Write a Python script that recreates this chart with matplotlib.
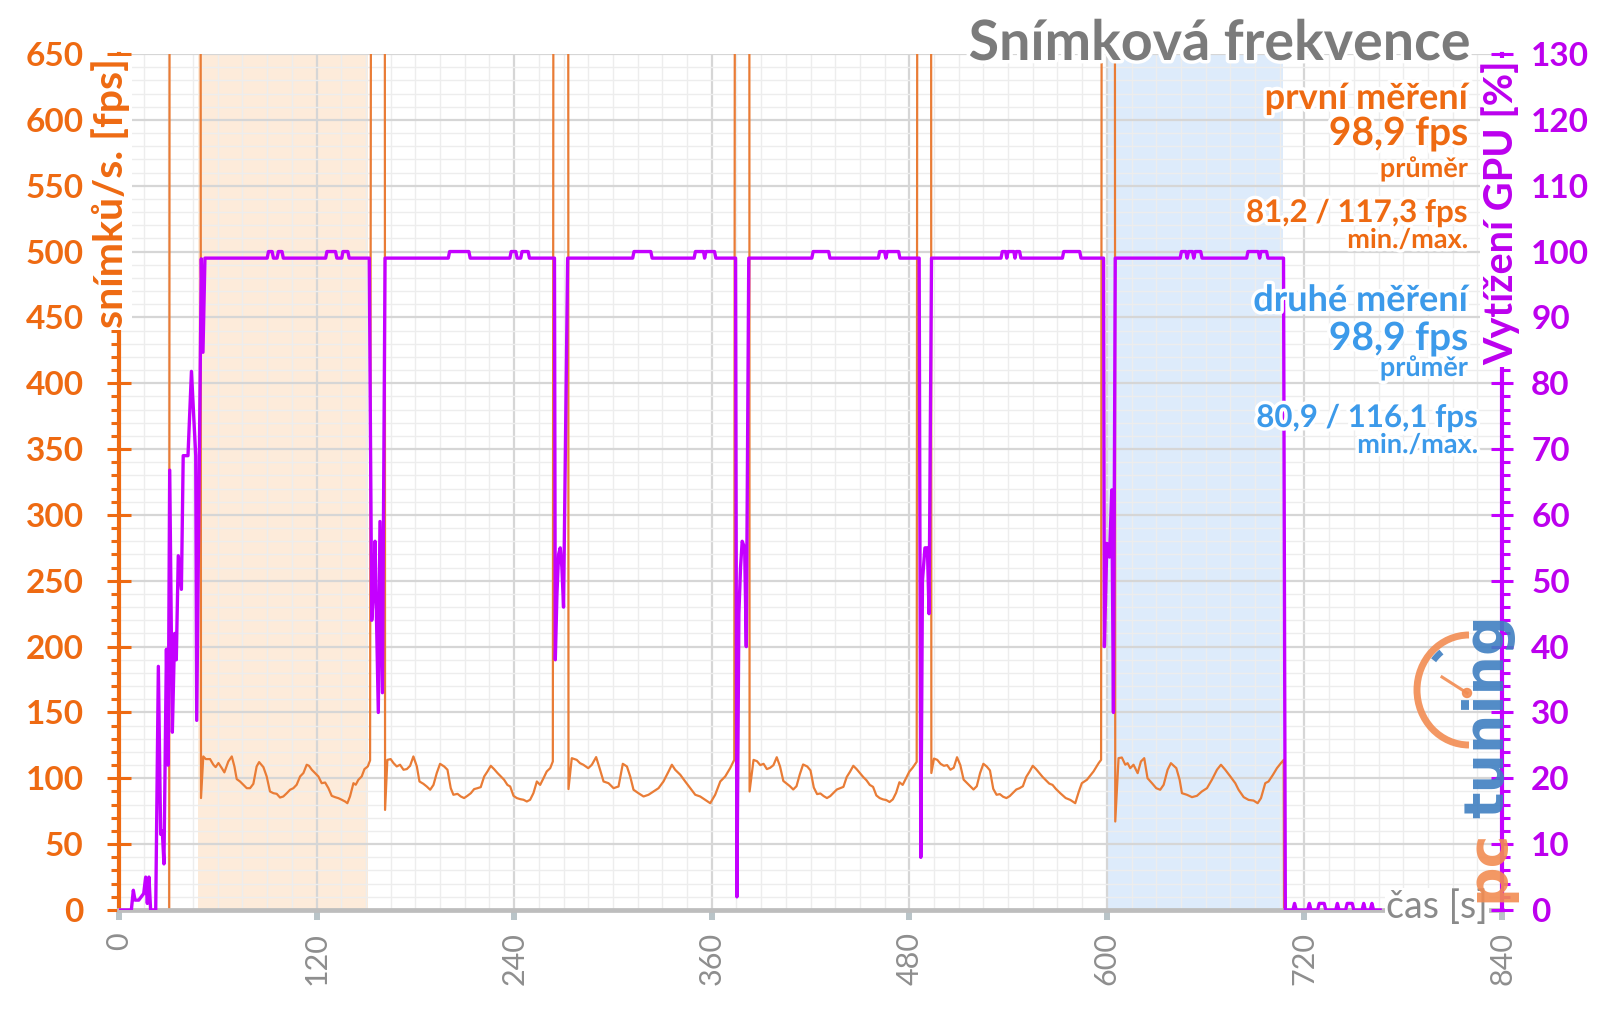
import matplotlib
matplotlib.use('Agg')
import matplotlib.pyplot as plt
import matplotlib.patheffects as pe
from matplotlib.patches import Arc, Circle
from matplotlib.ticker import MultipleLocator
import numpy as np

plt.rcParams['font.family'] = ['Lato', 'DejaVu Sans']

ORANGE = '#EE6A12'
ORANGE_LINE = '#E97C36'
MAGENTA = '#C400FF'
MAGENTA_TXT = '#BC00EE'
BLUE = '#3C9AEA'
GRAY = '#7B7B7B'

# --- snímková frekvence (fps), čas v s ---
start_t = [0, 30.5, 30.8, 49.5]
start_fps = [0, 0, 1000, 1000]

run1_t = [49.8, 51.2, 52.7, 55.3, 57.3, 58.7, 60.4, 62.4, 64, 66.4, 68.5, 70.1, 71.5, 73.5, 75.5,
          77.6, 79.6, 81.6, 83.6, 85.1, 87.7, 89.7, 91.7, 93.8, 95.8, 97.8, 99.8, 101.9, 103.9,
          105.9, 107.9, 110, 112, 114, 115.4, 117.1, 119.1, 121.1, 123.1, 125.2, 127.2, 129.2,
          131.2, 133.3, 135.3, 137.3, 138.7, 140.3, 142.4, 143.8, 145.4, 147.4, 149.1, 151.1, 152.5]
run1_fps = [85, 116.6, 114.6, 114.6, 110.3, 108.5, 111.6, 107.8, 104.5, 112.8, 116.6, 109, 99.4, 97.6, 95.1,
            92.5, 92.5, 95.8, 109, 112.3, 108.5, 101.4, 90, 88.7, 88.2, 85.4, 86.2, 88.7, 91.3,
            92.5, 95.1, 101.4, 104, 110.3, 109.5, 106.5, 104, 101.4, 96.3, 96.8, 92.5, 86.7,
            85.7, 84.9, 83.7, 82.4, 81.1, 86.2, 96.3, 95.1, 98.9, 101.4, 107, 109, 113.6]

load1_t = [153.3, 161.4]
load1_fps = [1000, 1000]

run2_t = [161.6, 163, 165, 166.7, 168.7, 170.7, 172.8, 174.8, 176.8, 178.8, 180.9, 182.5, 184.9, 186.9,
          189, 191, 193, 195, 197.5, 199.5, 201.5, 203.1, 205.6, 207.6, 209.6, 211.6, 213.7, 215.7,
          217.7, 219.7, 221.8, 223.8, 225.8, 227.8, 229.9, 231.9, 233.9, 235.9, 237.6, 239.6, 241.6,
          243.6, 245.7, 247.7, 249.7, 251.7, 253.8, 255.8, 257.8, 259.8, 261.9, 263.5]
run2_fps = [76, 114, 114.6, 111.6, 109, 110.3, 106.5, 107, 109.5, 116.6, 109, 97.6, 95.8, 93.8,
            91.3, 95, 104, 111, 109, 106.5, 92.5, 87.5, 88.2, 86.2, 85, 86.7, 88.7, 91.8,
            92.5, 93.3, 101.4, 105.2, 109.5, 107, 104, 101.4, 98.9, 95, 93.8, 86.7, 85,
            84.2, 83.7, 82.4, 83.7, 88.7, 97.6, 95, 100, 105.2, 107.7, 112.8]

load2_t = [264, 272.8]
load2_fps = [1000, 1000]

run3_t = [273, 275, 278, 280, 282, 285, 287.2, 289.8, 291.9, 294.3, 297.3, 300.4, 303.4, 306, 308.5,
          310.5, 312.5, 315.5, 318.6, 321.6, 324.7, 327.7, 330.7, 333.8, 335.8, 337.8, 340.9, 343.9,
          347, 350, 353, 356, 359.1, 362.1, 365.2, 368.2, 371.2, 373.7]
run3_fps = [91.8, 115.3, 114, 111.5, 110.3, 107.7, 110.3, 116.1, 107.7, 97.6, 96.3, 92.5, 93.8, 111, 109,
            101.4, 91.3, 88.7, 86.2, 87.5, 90, 92.5, 97.6, 105.2, 110.3, 106.5, 102.7, 97.6,
            92.5, 87.5, 86.2, 83.7, 81.1, 87.5, 97.6, 101.4, 107.7, 114]

load3_t = [374.2, 382.8]
load3_fps = [1000, 1000]

run4_t = [383, 385.4, 387.5, 389.5, 391.5, 393.5, 395.5, 397.5, 399.5, 401.5, 403.5, 405.5, 407.5, 409.5,
          411.5, 413.5, 415.5, 418, 420, 422, 424, 426, 428, 430, 432, 434, 436, 438, 440, 442, 444,
          446, 448, 450, 452, 454, 456, 458, 460, 462, 464, 466, 468, 470, 472, 474, 476, 478, 480,
          482, 484.5]
run4_fps = [90, 114, 113, 110, 111, 107, 108, 110, 116, 109, 98, 96, 94, 91.5,
            94, 103, 110.5, 109, 106, 93, 88, 88.5, 86.5, 85, 86.5, 89, 91.5, 92.5, 93.5, 101, 105,
            109.5, 107, 104, 101, 98.5, 95, 93.5, 87, 85, 84, 83.5, 82, 84, 89, 97, 95, 100, 105,
            108, 112.5]

load4_t = [485, 493.2]
load4_fps = [1000, 1000]

run5_t = [493.4, 495, 497, 499, 501, 503, 505, 507, 509, 511, 513, 515, 517, 519, 521, 523, 525, 527,
          529, 531, 533, 535, 537, 539, 541, 543, 545, 547, 549, 551, 553, 555, 557, 559, 561, 563,
          565, 567, 569, 571.7, 575, 577.8, 580.8, 583, 584.8, 587.9, 591.9, 595, 596.5]
run5_fps = [104, 115, 114, 111, 109.5, 110, 106.5, 108, 116, 110, 99, 96.5, 94, 91.5, 94, 104, 111, 109,
            106, 92, 87.5, 88, 86, 85, 86.5, 89, 91.5, 92.5, 94, 101, 105, 109.5, 107, 104, 101, 98.5,
            96, 95, 92, 88.7, 85, 83.6, 81.1, 90, 96.3, 98.9, 105.2, 111.5, 114]

load5_t = [597, 604.8]
load5_fps = [1000, 1000]

run6_t = [605.1, 607.1, 609.1, 611.2, 612.6, 614.2, 616.2, 618.7, 620.7, 622.7, 624.7, 627.4, 630,
          632.4, 634.5, 636.9, 638.9, 642.2, 644.2, 645.6, 648.6, 651.7, 654.7, 657.7, 660.8, 663.8,
          666.9, 669.3, 671.9, 675, 678, 680, 683.1, 686.1, 689.1, 691.6, 693.6, 696.2, 698.2, 700.9,
          703.3, 705.7, 707.4]
run6_fps = [67.2, 115.3, 115.8, 110.3, 111.5, 107.7, 110.3, 103.9, 112.8, 115.3, 100.1, 96.3, 92.5,
            91.3, 95.1, 106.5, 111.5, 107.7, 98.9, 88.7, 87.5, 85.7, 86.7, 90, 92.5, 98.9,
            106.5, 110.3, 106.5, 101.4, 96.3, 91.3, 85.7, 83.6, 83.1, 81.1, 84.9, 96.3, 97.6, 102.7,
            107.7, 111.5, 114]

end_t = [707.6, 766]
end_fps = [0, 0]

# --- vytížení GPU (%) ---
gpu_start_t = [0, 7.5, 8.7, 9.7, 12, 15, 16.2, 17.2, 18.2, 19.2, 22.3, 23.9, 25.3, 26.3, 27.3, 28.8,
               29.8, 30.8, 32.4, 33.8, 34.8, 36, 37.9, 39, 41.9, 44, 46.6, 47.2, 50, 51, 52.2]
gpu_start = [0, 0, 3, 1.5, 1.5, 2.5, 5, 1, 5, 0, 0, 37, 11.5, 12, 7, 39.6,
             22, 66.8, 27, 42, 38, 53.8, 48.7, 69, 69, 81.8, 69, 28.8, 98.9, 84.7, 99]

gpu_run1_t = [90, 90.8, 93, 93.8, 96, 96.8, 99, 99.8, 125.5, 126.3, 131.5, 132.3, 135.3, 136, 139, 139.8, 152]
gpu_run1 = [99, 100, 100, 99, 99, 100, 100, 99, 99, 100, 100, 99, 99, 100, 100, 99, 99]
gpu_load1_t = [153.5, 154.5, 155.5, 157.5, 158.5, 160, 161.6]
gpu_load1 = [44, 48, 56, 30, 59, 33, 99]

gpu_run2_t = [200, 200.8, 212.5, 213.3, 237.4, 238.2, 241, 241.8, 244, 244.8, 248.5, 249.3, 264.5]
gpu_run2 = [99, 100, 100, 99, 99, 100, 100, 99, 99, 100, 100, 99, 99]
gpu_load2_t = [265, 266, 267, 268, 269, 270, 272.5]
gpu_load2 = [38, 48, 54, 55, 52, 46, 99]

gpu_run3_t = [312, 312.8, 323, 323.8, 349.3, 350.1, 355, 355.7, 356.5, 361.7, 362.5, 374.5]
gpu_run3 = [99, 100, 100, 99, 99, 100, 100, 99, 100, 100, 99, 99]
gpu_load3_t = [375.3, 376.5, 377.5, 378.5, 380, 381, 382.5]
gpu_load3 = [2, 45, 52, 56, 55, 40, 99]

gpu_run4_t = [420.8, 421.6, 431, 431.8, 461.2, 462, 465, 465.8, 466.6, 473.5, 474.3, 486]
gpu_run4 = [99, 100, 100, 99, 99, 100, 100, 99, 100, 100, 99, 99]
gpu_load4_t = [487, 488, 489.5, 491, 492, 493.5]
gpu_load4 = [8, 50, 55, 55, 45, 99]

gpu_run5_t = [535.7, 536.5, 538.5, 539.2, 540, 543.5, 544.2, 545, 547, 547.8, 573, 573.8, 583.5, 584.3, 598]
gpu_run5 = [99, 100, 100, 99, 100, 100, 99, 100, 100, 99, 99, 100, 100, 99, 99]
gpu_load5_t = [598.5, 600, 601.6, 603, 604, 605.1]
gpu_load5 = [40, 55.7, 53.6, 63.8, 30, 99]

gpu_run6_t = [644.5, 645.3, 648, 648.8, 649.6, 652, 652.8, 653.6, 657, 657.8, 684.9, 685.7, 692, 692.8,
              693.6, 697, 697.8, 707.3]
gpu_run6 = [99, 100, 100, 99, 100, 100, 99, 100, 100, 99, 99, 100, 100, 99,
            100, 100, 99, 99]

gpu_end_t = [708.4, 713, 714, 715, 722, 723, 724, 728, 729, 732, 733, 739, 740, 741, 745, 746, 749, 750,
             755, 756, 757, 760, 761, 762, 766]
gpu_end = [0, 0, 1, 0, 0, 1, 0, 0, 1, 1, 0, 0, 1, 0, 0, 1, 1, 0,
           0, 1, 0, 0, 1, 0, 0]

# úseky měření (zvýraznění)
first_span = (48, 151.4)
second_span = (600, 707.2)

fps_t = np.concatenate([start_t, run1_t, load1_t, run2_t, load2_t, run3_t, load3_t, run4_t,
                        load4_t, run5_t, load5_t, run6_t, end_t])
fps_v = np.concatenate([start_fps, run1_fps, load1_fps, run2_fps, load2_fps, run3_fps, load3_fps,
                        run4_fps, load4_fps, run5_fps, load5_fps, run6_fps, end_fps])
gpu_t = np.concatenate([gpu_start_t, gpu_run1_t, gpu_load1_t, gpu_run2_t, gpu_load2_t, gpu_run3_t,
                        gpu_load3_t, gpu_run4_t, gpu_load4_t, gpu_run5_t, gpu_load5_t, gpu_run6_t,
                        gpu_end_t])
gpu_v = np.concatenate([gpu_start, gpu_run1, gpu_load1, gpu_run2, gpu_load2, gpu_run3, gpu_load3,
                        gpu_run4, gpu_load4, gpu_run5, gpu_load5, gpu_run6, gpu_end])

W, H = 1600, 1009
fig = plt.figure(figsize=(W / 100, H / 100), dpi=100)
fig.patch.set_facecolor('white')


def fx(px):
    return px / W


def fy(py):
    return 1 - py / H


ax = fig.add_axes([fx(119), fy(910), fx(1502) - fx(119), fy(54) - fy(910)])
ax.set_xlim(0, 840)
ax.set_ylim(0, 650)

ax.axvspan(*first_span, color='#FDEBDA', lw=0, zorder=0)
ax.axvspan(*second_span, color='#DDEBFB', lw=0, zorder=0)

ax.set_xticks(np.arange(0, 841, 120))
ax.xaxis.set_minor_locator(MultipleLocator(15))
ax.set_yticks(np.arange(0, 651, 50))
ax.yaxis.set_minor_locator(MultipleLocator(10))
ax.set_axisbelow('line')
ax.grid(which='major', color='#D6D6D6', lw=1.6)
ax.grid(which='minor', color='#EDEDED', lw=1.0)

ax.plot(fps_t, fps_v, color=ORANGE_LINE, lw=1.6, zorder=2)

for s in ['top', 'right']:
    ax.spines[s].set_visible(False)
ax.spines['left'].set_color(ORANGE)
ax.spines['left'].set_linewidth(3)
ax.spines['bottom'].set_color('#BDBDBD')
ax.spines['bottom'].set_linewidth(3.4)

ax.tick_params(axis='y', which='major', direction='inout', length=17, width=2.2, color=ORANGE,
               labelcolor=ORANGE, labelsize=24, pad=17)
ax.tick_params(axis='y', which='minor', direction='out', length=6, width=2.2, color=ORANGE)
ax.tick_params(axis='x', which='major', direction='out', length=7, width=4.3, color='#B9C4C8',
               labelcolor='#8E8E8E', labelsize=22, pad=9, labelrotation=90)
ax.tick_params(axis='x', which='minor', length=0)
for lbl in ax.get_yticklabels():
    lbl.set_fontweight('bold')

ax2 = ax.twinx()
ax2.set_ylim(0, 130)
ax2.set_yticks(np.arange(0, 131, 10))
ax2.yaxis.set_minor_locator(MultipleLocator(2))
ax2.plot(gpu_t, gpu_v, color=MAGENTA, lw=2.4, zorder=3)
for s in ['top', 'left', 'bottom']:
    ax2.spines[s].set_visible(False)
ax2.spines['right'].set_color(MAGENTA)
ax2.spines['right'].set_linewidth(3)
ax2.tick_params(axis='y', which='major', direction='inout', length=16, width=2.2, color=MAGENTA,
                labelcolor=MAGENTA_TXT, labelsize=24, pad=13)
ax2.tick_params(axis='y', which='minor', direction='out', length=6, width=2.2, color=MAGENTA)
for lbl in ax2.get_yticklabels():
    lbl.set_fontweight('bold')

# popisky os
white_box = dict(facecolor='white', edgecolor='none', pad=1.5)
fig.text(fx(111), fy(58), 'snímků/s. [fps]', rotation=90, ha='center', va='top', fontsize=29.5,
         fontweight='bold', color=ORANGE, bbox=white_box)
fig.text(fx(1501), fy(60), 'Vytížení GPU [%]', rotation=90, ha='center', va='top', fontsize=28.5,
         fontweight='bold', color=MAGENTA_TXT, bbox=white_box)
fig.text(fx(1386), fy(918), 'čas [s]', ha='left', va='baseline', fontsize=27, color='#8A8A8A',
         bbox=dict(facecolor='white', edgecolor='none', pad=0.5))

# titulek a souhrn
glow = [pe.withStroke(linewidth=5, foreground='white')]
fig.text(fx(1470), fy(60), 'Snímková frekvence', ha='right', va='baseline', fontsize=40,
         fontweight='bold', color=GRAY, path_effects=glow)

summary = [
    ('první měření', 1468, 109, 26, ORANGE),
    ('98,9 fps', 1468, 145, 28, ORANGE),
    ('průměr', 1468, 177, 19.5, ORANGE),
    ('81,2 / 117,3 fps', 1468, 222, 22.5, ORANGE),
    ('min./max.', 1468, 248, 19.5, ORANGE),
    ('druhé měření', 1468, 311, 26, BLUE),
    ('98,9 fps', 1468, 350, 28, BLUE),
    ('průměr', 1468, 376, 19.5, BLUE),
    ('80,9 / 116,1 fps', 1478, 427, 22.5, BLUE),
    ('min./max.', 1478, 453, 19.5, BLUE),
]
for txt, x, y, size, col in summary:
    fig.text(fx(x), fy(y), txt, ha='right', va='baseline', fontsize=size, fontweight='bold',
             color=col, path_effects=glow)

# logo pctuning
lax = fig.add_axes([fx(1400), fy(910), fx(1530) - fx(1400), fy(590) - fy(910)], zorder=5)
lax.set_xlim(1400, 1530)
lax.set_ylim(H - 910, H - 590)
lax.axis('off')
lax.patch.set_visible(False)
lax.add_patch(Arc((1469, H - 690), 104, 110, theta1=90, theta2=270, color='#F28C52', lw=5, alpha=0.9))
lax.add_patch(Arc((1469, H - 690), 90, 96, theta1=126, theta2=140, color='#3F7FC1', lw=4.5, alpha=0.9))
lax.plot([1442, 1467], [H - 677, H - 693], color='#F28C52', lw=2.2, alpha=0.9)
lax.add_patch(Circle((1467, H - 693), 4.5, color='#F28C52', alpha=0.9))
lax.text(1488, H - 902, 'pc', rotation=90, ha='center', va='bottom', fontsize=40,
         fontweight='bold', family='DejaVu Sans', color='#F28C52', alpha=0.9)
lax.text(1488, H - 818, 'tuning', rotation=90, ha='center', va='bottom', fontsize=40,
         fontweight='bold', family='DejaVu Sans', color='#3F7FC1', alpha=0.9)

fig.savefig('out.png', dpi=100, facecolor='white')
